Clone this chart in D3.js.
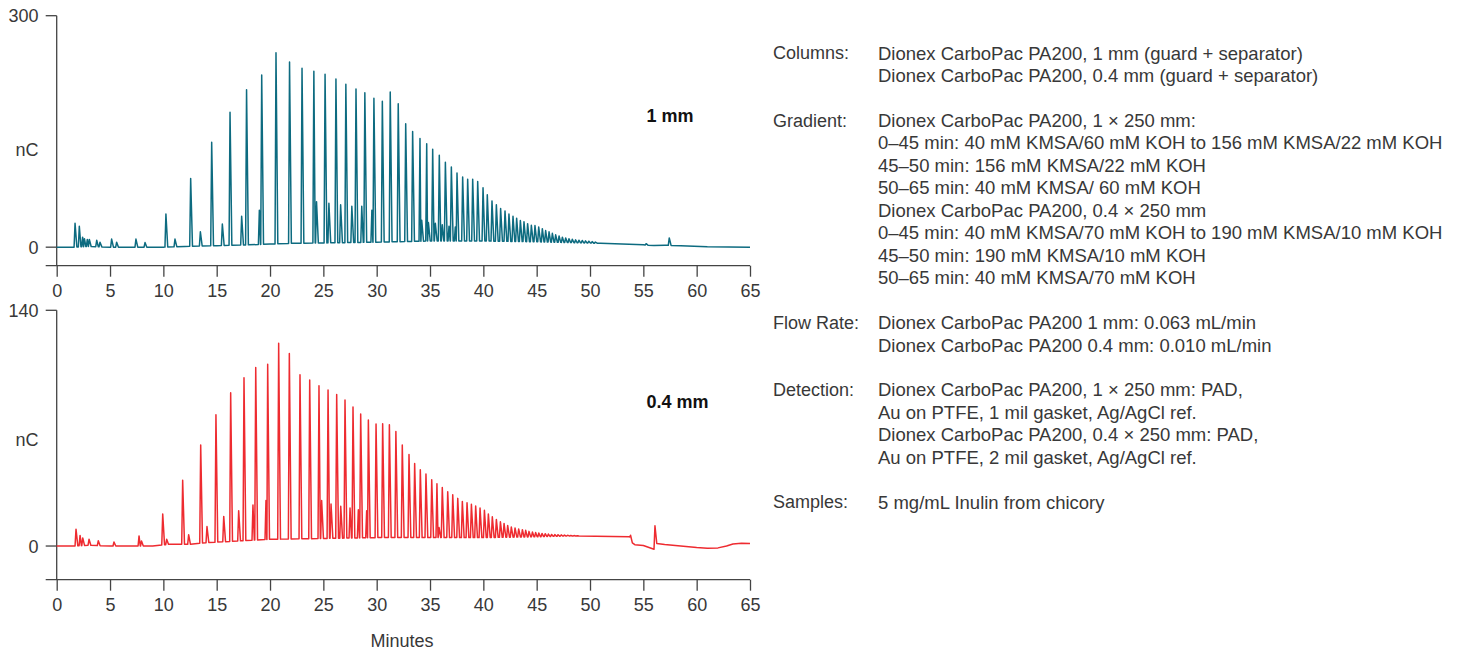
<!DOCTYPE html>
<html>
<head>
<meta charset="utf-8">
<script src="https://cdn.jsdelivr.net/npm/d3@7"></script>
<style>
  body { margin: 0; background: #fff; }
  svg text { font-family: "Liberation Sans", Arial, sans-serif; }
</style>
</head>
<body>
<svg id="chart" width="1460" height="656"></svg>
<script>
// ---- data ----
const xTicks = [0, 5, 10, 15, 20, 25, 30, 35, 40, 45, 50, 55, 60, 65];

// 1 mm column: peak retention times (min) and apex heights (nC)
const peakTimes1mm = [1.72, 2.12, 2.43, 2.6, 2.87, 3.06, 3.75, 4.06, 5.15, 5.62, 7.43, 8.28,
  10.24, 11.09, 12.56, 13.47, 14.53, 15.53, 16.25, 17.34, 17.8, 19.0, 19.22, 20.56,
  21.83, 23.0, 24.11, 24.36, 25.16, 25.52, 26.18, 26.62, 27.11, 27.67, 28.06, 28.6,
  28.89, 29.55, 29.74, 30.53, 31.27, 32.02, 32.72, 33.37, 34.06, 34.22, 34.69, 34.85,
  35.25, 35.5, 35.87, 36.15, 36.44, 36.78, 37.0, 37.37, 37.53, 38.06, 38.53, 39.0,
  39.47, 39.97, 40.37, 40.81, 41.22, 41.62, 42.03, 42.4, 42.78, 43.12, 43.47, 43.81,
  44.15, 44.5, 44.84, 45.19, 45.53, 45.84, 46.16, 46.47, 46.78, 47.1, 47.41, 47.72,
  48.03, 48.34, 48.65, 48.96, 49.27, 49.58, 49.89, 50.2, 50.5, 55.26, 57.43];
const peakHeights1mm = [31, 27, 13, 11, 10, 10, 9, 6.5, 10.5, 6.5, 10.5, 6,
  43, 10.5, 89, 20, 136, 30, 175, 40, 204, 48, 223, 252,
  240, 232, 228, 59, 224, 57, 218, 55, 211, 53, 205, 53,
  200, 48, 193, 189, 201, 186, 160, 150, 141, 35, 134, 32,
  127, 31, 119, 29, 110, 27, 104, 26, 96, 91, 88, 88,
  85, 77, 68, 60, 55, 50, 47, 43, 40, 37.6, 34.6, 33,
  30.5, 28.4, 28, 26, 24, 21.6, 20, 18, 16, 14.6, 13, 12,
  11, 10.2, 9.5, 9, 8.6, 8.2, 7.8, 7.2, 6.6, 4.5, 12];
// 1 mm baseline (valley level) at selected times
const baseTimes1mm = [0, 1.6, 3.0, 5.0, 10.0, 12.0, 15.0, 18.0, 20.0, 22.0, 25.0, 30.0,
  35.0, 40.0, 45.0, 48.0, 51.0, 53.0, 55.0, 56.0, 57.0, 58.5, 61.0, 65.0];
const baseValues1mm = [0, 0, 1, 0, 0, 1, 2, 3, 4, 5, 5.5, 6.5,
  8, 8, 7, 6, 5, 4, 3, 2.2, 2.5, 2, 0.4, 0];

// 0.4 mm column
const peakTimes04mm = [1.81, 2.19, 2.44, 3.03, 3.9, 5.37, 7.72, 7.95, 9.94, 10.31, 11.81, 12.37,
  13.5, 14.09, 14.93, 15.66, 16.31, 17.06, 17.56, 18.4, 18.66, 19.62, 19.78, 20.81,
  21.81, 22.81, 23.72, 24.59, 24.84, 25.44, 25.72, 26.25, 26.63, 27.03, 27.5, 27.78,
  28.28, 28.5, 29.06, 29.22, 29.94, 30.56, 31.19, 31.8, 32.4, 33.03, 33.56, 34.09,
  34.62, 35.16, 35.65, 35.85, 36.15, 36.66, 37.13, 37.6, 38.03, 38.47, 38.88, 39.28,
  39.69, 40.1, 40.47, 40.84, 41.22, 41.6, 41.94, 42.28, 42.62, 42.97, 43.31, 43.66,
  43.97, 44.28, 44.6, 44.9, 45.2, 45.5, 45.8, 46.1, 46.4, 46.7, 47.0, 47.3,
  47.6, 47.9, 48.2, 48.5, 48.8, 53.8, 56.09];
const peakHeights04mm = [10, 6.3, 4.8, 4, 3.2, 2.4, 6, 3, 19, 4, 39, 6.7,
  60, 11.6, 78, 17.6, 91, 21, 100, 24.4, 106, 27, 108, 120.5,
  114.4, 101.7, 98.6, 95.2, 27, 92.6, 25, 90, 23.6, 86.7, 22.6, 82.5,
  21.6, 78.4, 21, 74.8, 72.4, 72.6, 72, 68, 60, 54.4, 49, 45.3,
  42.8, 39.4, 37, 11, 34.8, 32.2, 30.5, 28.3, 26.5, 25.7, 24.8, 23.8,
  22.6, 21.2, 19, 17.4, 15.8, 14.4, 13.4, 12.2, 11.3, 10.7, 10.1, 9.7,
  9.3, 8.7, 8.3, 8, 7.7, 7.5, 7.3, 7.1, 6.9, 6.8, 6.7, 6.6,
  6.5, 6.4, 6.3, 6.2, 6.1, 6.4, 12];
const baseTimes04mm = [0, 1.7, 3.0, 5.0, 9.0, 10.5, 12.5, 14.0, 17.0, 20.0, 25.0, 30.0,
  35.0, 40.0, 45.0, 48.0, 53.7, 53.95, 54.2, 55.0, 56.05, 56.15, 57.0, 58.0, 59.0,
  60.0, 61.0, 62.0, 62.8, 63.4, 64.2, 65.0];
const baseValues04mm = [0, 0, 0.5, 0, 0, 1, 1, 2, 3, 4, 4.5, 5,
  5, 5, 5.5, 6, 5.5, 2, 0.8, 0.3, -2, 1.6, 0.9, 0.3, -0.3,
  -0.9, -1.3, -1.1, 0, 1.2, 1.6, 1.5];

// method conditions text (label, lines)
const conditionLabels = ["Columns:", "Gradient:", "Flow Rate:", "Detection:", "Samples:"];
const conditionLines = [
  ["Dionex CarboPac PA200, 1 mm (guard + separator)",
   "Dionex CarboPac PA200, 0.4 mm (guard + separator)"],
  ["Dionex CarboPac PA200, 1 \u00d7 250 mm:",
   "0\u201345 min: 40 mM KMSA/60 mM KOH to 156 mM KMSA/22 mM KOH",
   "45\u201350 min: 156 mM KMSA/22 mM KOH",
   "50\u201365 min: 40 mM KMSA/ 60 mM KOH",
   "Dionex CarboPac PA200, 0.4 \u00d7 250 mm",
   "0\u201345 min: 40 mM KMSA/70 mM KOH to 190 mM KMSA/10 mM KOH",
   "45\u201350 min: 190 mM KMSA/10 mM KOH",
   "50\u201365 min: 40 mM KMSA/70 mM KOH"],
  ["Dionex CarboPac PA200 1 mm: 0.063 mL/min",
   "Dionex CarboPac PA200 0.4 mm: 0.010 mL/min"],
  ["Dionex CarboPac PA200, 1 \u00d7 250 mm: PAD,",
   "Au on PTFE, 1 mil gasket, Ag/AgCl ref.",
   "Dionex CarboPac PA200, 0.4 \u00d7 250 mm: PAD,",
   "Au on PTFE, 2 mil gasket, Ag/AgCl ref."],
  ["5 mg/mL Inulin from chicory"]
];

// ---- drawing ----
const svg = d3.select("#chart");
const axisColor = "#444";
const textColor = "#383838";
const fontSize = 18;

// turn peak list + baseline knots into trace vertices
function buildTrace(times, heights, baseT, baseV) {
  const baseAt = d3.scaleLinear().domain(baseT).range(baseV);
  const peaks = times.map((t, i) => ({ t: t, h: heights[i] })).sort((a, b) => a.t - b.t);
  const pts = [];
  const spans = [];
  peaks.forEach((p, i) => {
    const gapL = i > 0 ? p.t - peaks[i - 1].t : 1;
    const gapR = i < peaks.length - 1 ? peaks[i + 1].t - p.t : 1;
    const lf = p.t - Math.min(0.09, gapL * 0.45);
    const rf = p.t + Math.min(0.17, gapR * 0.5);
    spans.push([lf, rf]);
    pts.push([lf, baseAt(lf)], [p.t, p.h], [rf, baseAt(rf)]);
  });
  baseT.forEach((t, i) => {
    if (!spans.some(s => t >= s[0] && t <= s[1])) pts.push([t, baseV[i]]);
  });
  return pts.sort((a, b) => a[0] - b[0]);
}

function drawPanel(cfg) {
  const x = d3.scaleLinear().domain([0, 65]).range([56.7, 750]);
  const y = d3.scaleLinear().domain(cfg.yDomain).range([cfg.bottom, cfg.top]);
  const g = svg.append("g");

  // y axis: line from top tick down to x axis
  g.append("line")
    .attr("x1", x(0)).attr("x2", x(0))
    .attr("y1", y(cfg.yDomain[1])).attr("y2", y(cfg.yDomain[0]))
    .attr("stroke", axisColor).attr("stroke-width", 1.3);
  [0, cfg.yDomain[1]].forEach(v => {
    g.append("line")
      .attr("x1", x(0) - 11).attr("x2", x(0))
      .attr("y1", y(v)).attr("y2", y(v))
      .attr("stroke", axisColor).attr("stroke-width", 1.3);
    g.append("text")
      .attr("x", 38.5).attr("y", y(v))
      .attr("dy", "0.36em")
      .attr("text-anchor", "end")
      .attr("font-size", fontSize).attr("fill", textColor)
      .text(v);
  });
  g.append("text")
    .attr("x", 38.5).attr("y", cfg.nCy).attr("dy", "0.36em")
    .attr("text-anchor", "end")
    .attr("font-size", fontSize).attr("fill", textColor)
    .text("nC");

  // x axis
  const xAxis = d3.axisBottom(x).tickValues(xTicks).tickSize(11).tickPadding(8).tickSizeOuter(0);
  const ax = g.append("g")
    .attr("transform", `translate(0,${y(cfg.yDomain[0])})`)
    .call(xAxis);
  ax.select(".domain").attr("d", `M${x(0) - 11},0H${x(65)}`)
    .attr("stroke", axisColor).attr("stroke-width", 1.3);
  ax.selectAll(".tick line").attr("stroke", axisColor).attr("stroke-width", 1.3);
  ax.selectAll(".tick text")
    .attr("font-size", fontSize).attr("fill", textColor)
    .attr("font-family", "Liberation Sans, Arial, sans-serif");

  // trace
  const pts = buildTrace(cfg.times, cfg.heights, cfg.baseT, cfg.baseV);
  const line = d3.line().x(d => x(d[0])).y(d => y(d[1]));
  g.append("path")
    .datum(pts)
    .attr("d", line)
    .attr("fill", "none")
    .attr("stroke", cfg.color)
    .attr("stroke-width", 1.5)
    .attr("stroke-linejoin", "round");

  g.append("text")
    .attr("x", 646.5).attr("y", cfg.labelY).attr("dy", "0.36em")
    .attr("font-size", 18).attr("font-weight", "bold").attr("fill", "#111")
    .text(cfg.label);
}

drawPanel({
  yDomain: [-24, 300], top: 15.7, bottom: 265.7,
  times: peakTimes1mm, heights: peakHeights1mm,
  baseT: baseTimes1mm, baseV: baseValues1mm,
  color: "#0d6b80", label: "1 mm", labelY: 116, nCy: 150
});
drawPanel({
  yDomain: [-20, 140], top: 310.3, bottom: 579.7,
  times: peakTimes04mm, heights: peakHeights04mm,
  baseT: baseTimes04mm, baseV: baseValues04mm,
  color: "#ee2b30", label: "0.4 mm", labelY: 401.7, nCy: 440
});

svg.append("text")
  .attr("x", 402).attr("y", 641).attr("dy", "0.36em")
  .attr("text-anchor", "middle")
  .attr("font-size", fontSize).attr("fill", textColor)
  .text("Minutes");

// conditions block
const rowH = 22.45;
let row = 0;
const info = svg.append("g");
conditionLabels.forEach((lab, i) => {
  info.append("text")
    .attr("x", 773).attr("y", 53 + row * rowH).attr("dy", "0.36em")
    .attr("font-size", fontSize).attr("fill", textColor)
    .text(lab);
  conditionLines[i].forEach(s => {
    info.append("text")
      .attr("x", 878).attr("y", 53 + row * rowH).attr("dy", "0.36em")
      .attr("font-size", 18.5).attr("fill", textColor)
      .text(s);
    row++;
  });
  row++;
});
</script>
</body>
</html>
